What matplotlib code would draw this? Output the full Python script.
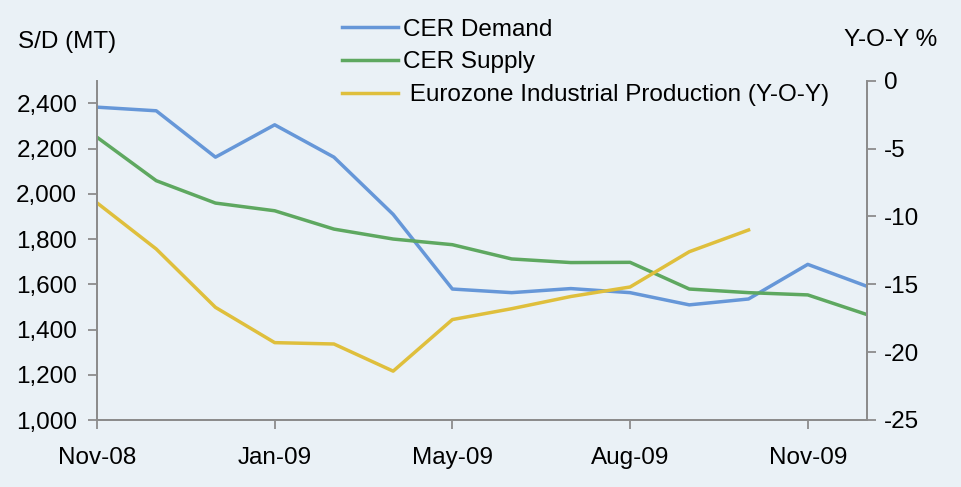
import matplotlib
matplotlib.use("Agg")
import matplotlib.pyplot as plt
import numpy as np

months = ["Nov-08", "Dec-08", "Jan-09", "Feb-09", "Mar-09", "Apr-09", "May-09",
          "Jun-09", "Jul-09", "Aug-09", "Sep-09", "Oct-09", "Nov-09", "Dec-09"]
tick_idx = [0, 3, 6, 9, 12]
tick_labels = ["Nov-08", "Jan-09", "May-09", "Aug-09", "Nov-09"]

cer_demand = [2383, 2367, 2162, 2305, 2162, 1909, 1579, 1563, 1581, 1563, 1509, 1535, 1688, 1591]
cer_supply = [2250, 2058, 1959, 1925, 1844, 1800, 1775, 1712, 1696, 1697, 1579, 1563, 1553, 1466]
eurozone_ip = [-9.0, -12.4, -16.7, -19.3, -19.4, -21.4, -17.6, -16.8, -15.9, -15.2, -12.6, -11.0,
               np.nan, np.nan]

plt.rcParams['font.family'] = ['Liberation Sans', 'DejaVu Sans']
plt.rcParams['axes.unicode_minus'] = False
bg = "#EAF1F6"
c_blue = "#6697D8"
c_green = "#5EA860"
c_yellow = "#DFBF3C"
spine_c = "#8C8C8C"
fs = 17.5

fig = plt.figure(figsize=(9.62, 4.87), dpi=100)
fig.patch.set_facecolor(bg)
W, H = 962, 487
ax = fig.add_axes([97 / W, 1 - 420 / H, (867 - 97) / W, (420 - 80.7) / H])
ax.set_facecolor(bg)
ax2 = ax.twinx()

x = np.arange(len(months))
l1, = ax.plot(x, cer_demand, color=c_blue, lw=2.5, label="CER Demand")
l2, = ax.plot(x, cer_supply, color=c_green, lw=2.5, label="CER Supply")
l3, = ax2.plot(x, eurozone_ip, color=c_yellow, lw=2.5, label=" Eurozone Industrial Production (Y-O-Y)")

ax.set_xlim(0, len(months) - 1)
ax.set_ylim(1000, 2500)
ax.set_yticks(np.arange(1000, 2401, 200))
ax.set_yticklabels([f"{v:,}" for v in range(1000, 2401, 200)])
ax2.set_ylim(-25, 0)
ax2.set_yticks(np.arange(-25, 1, 5))
ax.set_xticks(tick_idx)
ax.set_xticklabels(tick_labels)

for a in (ax, ax2):
    a.spines['top'].set_visible(False)
    for s in ('left', 'right', 'bottom'):
        a.spines[s].set_color(spine_c)
        a.spines[s].set_linewidth(1.3)
    a.tick_params(colors=spine_c, labelcolor="black", labelsize=fs, length=6.3, width=1.3, direction='out')
ax.tick_params(axis='x', pad=13)
ax.tick_params(axis='y', pad=8)
ax2.tick_params(axis='y', pad=6)

fig.text(18 / W, 1 - 42 / H, "S/D (MT)", fontsize=fs, va='center', ha='left')
fig.text(937 / W, 1 - 40 / H, "Y-O-Y %", fontsize=fs, va='center', ha='right')

fig.legend(handles=[l1, l2, l3], loc='upper left', bbox_to_anchor=(342 / W, 1 - 18.5 / H),
           frameon=False, fontsize=fs, handlelength=2.3, handletextpad=0.2,
           labelspacing=0.45, borderaxespad=0, borderpad=0)

fig.savefig("out.png", dpi=100, facecolor=bg)
